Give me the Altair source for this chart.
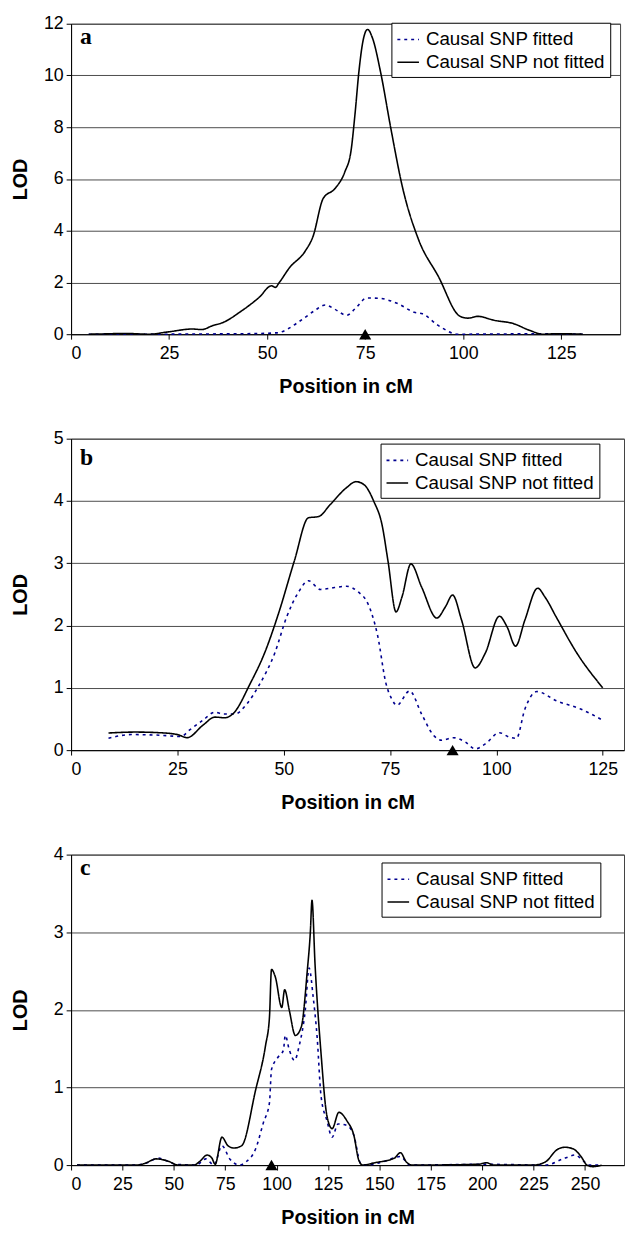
import altair as alt
import pandas as pd

SERIES = ["Causal SNP fitted", "Causal SNP not fitted"]
BLUE = "#00008f"
FONT = "Liberation Sans"

# ---- Panel a ----
A_pos_nf = [4.5, 8, 13.7, 19.7, 24.8, 30.9, 33.4, 35.9, 39, 43, 48, 51.1, 52.1, 53.1, 55.7, 59.7,
            61.7, 64.3, 67.3, 69.8, 71.4, 72.4, 73.4, 74.4, 75.6, 76.9, 78.9, 81.5, 84.5, 88.6, 93.6,
            99.2, 101.2, 103.7, 107.8, 112.8, 116.9, 120.4, 124, 130.5]
A_lod_nf = [0.0, 0.01, 0.03, 0.0, 0.09, 0.2, 0.18, 0.32, 0.47, 0.85, 1.43, 1.87, 1.81, 2.0, 2.57, 3.21,
            3.78, 5.25, 5.63, 6.27, 7.1, 8.5, 10.15, 11.3, 11.78, 11.43, 10.15, 7.99, 5.69, 3.66, 2.25,
            0.69, 0.62, 0.69, 0.54, 0.41, 0.15, 0.0, 0.02, 0.0]
A_pos_f = [4.5, 20, 35, 45, 52, 53.5, 55.2, 59.2, 62.2, 64.8, 67.3, 70.3, 72.4, 75.4, 78.4, 83.5,
           87.5, 89.6, 93.6, 98.7, 110, 120, 130.5]
A_lod_f = [0, 0, 0.01, 0.02, 0.05, 0.08, 0.2, 0.6, 0.92, 1.13, 0.96, 0.73, 0.98, 1.4, 1.39, 1.17,
           0.85, 0.79, 0.34, 0.0, 0.01, 0.02, 0.0]
A_causal = [75]

# ---- Panel b ----
B_pos_nf = [8.8, 15.1, 20.7, 25, 27.3, 31, 33.8, 36.2, 38, 42.2, 45.5, 48.8, 52.5, 55.8, 58.2, 60.9,
            64.7, 67, 68.9, 71.2, 73.1, 74.5, 76.4, 77.8, 79.9, 82.4, 86, 88, 89.7, 91.8, 95, 97.4,
            100.7, 102.5, 104.5, 106.7, 109.7, 111.4, 114.2, 118.9, 125]
B_lod_nf = [0.275, 0.29, 0.28, 0.25, 0.2, 0.4, 0.53, 0.52, 0.58, 1.08, 1.56, 2.2, 3.04, 3.73, 3.75, 3.94,
            4.21, 4.31, 4.26, 3.99, 3.62, 3.04, 2.22, 2.46, 2.99, 2.62, 2.12, 2.3, 2.49, 2.09, 1.32, 1.56,
            2.15, 1.98, 1.67, 2.09, 2.6, 2.46, 2.12, 1.56, 1.0]
B_pos_f = [8.8, 14.2, 20.7, 25.9, 27.8, 31, 33.8, 35.7, 38.5, 41.3, 44.1, 47.9, 50.7, 53.5, 55.8, 58.6,
           61.9, 64.7, 67.5, 69.8, 72.1, 74, 75.4, 76.6, 79.6, 82.4, 85.2, 87.1, 89.9, 92.7, 95, 97.4,
           100.7, 103, 104.7, 106.7, 109.5, 114.2, 119.8, 125]
B_lod_f = [0.19, 0.25, 0.24, 0.22, 0.32, 0.48, 0.61, 0.58, 0.58, 0.74, 1.03, 1.56, 2.14, 2.54, 2.72, 2.58,
           2.61, 2.63, 2.54, 2.35, 1.83, 1.08, 0.82, 0.72, 0.95, 0.58, 0.24, 0.16, 0.2, 0.13, 0.02, 0.1,
           0.28, 0.21, 0.19, 0.66, 0.94, 0.79, 0.66, 0.48]
B_causal = [89.7]

# ---- Panel c ----
C_pos_nf = [2.9, 31.9, 35.7, 41.5, 47.3, 52.1, 59.8, 62.7, 66.2, 68.5, 70.1, 73.4, 76.3, 79.2, 83, 89.8,
            94.6, 96.5, 97.5, 99.4, 102.5, 103.9, 106.2, 109.1, 112, 114.9, 116.4, 117.2, 118.7, 121.6,
            124.5, 127, 130.3, 134.2, 137.6, 140, 141.9, 147.7, 157.3, 160.2, 163.1, 166, 197.9, 202.1,
            205.6, 224.9, 230.7, 236.5, 240.3, 244.2, 248.1, 251, 253.9, 258.1]
C_lod_nf = [0.0, 0.0, 0.02, 0.08, 0.05, 0.0, 0.0, 0.05, 0.13, 0.09, 0.01, 0.36, 0.25, 0.22, 0.25, 0.97,
            1.54, 1.9, 2.52, 2.42, 2.03, 2.26, 1.99, 1.67, 1.78, 2.5, 3.0, 3.41, 2.58, 1.44,
            0.63, 0.47, 0.68, 0.57, 0.38, 0.06, 0.0, 0.03, 0.09, 0.16, 0.04, 0.0, 0.01, 0.03,
            0.0, 0.0, 0.04, 0.2, 0.23, 0.21, 0.11, 0.0, -0.02, 0.0]
C_pos_f = [2.9, 31.9, 37, 42.5, 47, 51, 60.8, 65.6, 69.5, 73.4, 77.2, 82, 85, 89.8, 93.6, 96.5, 97.5,
           100.4, 103.3, 104.2, 106.2, 108.7, 111, 113.9, 115.8, 117.8, 119.7, 121.6, 124.5, 127, 129.9,
           134.2, 137.6, 140.9, 143.8, 151.5, 160.2, 165, 202, 230.7, 240.3, 245.2, 249, 251.9, 258.1]
C_lod_f = [0, 0, 0.03, 0.09, 0.05, 0.01, 0, 0.08, 0, 0.25, 0.08, 0, 0.04, 0.21, 0.55, 0.8, 1.23,
           1.38, 1.48, 1.67, 1.48, 1.35, 1.54, 1.99, 2.54, 2.16, 1.65, 0.89, 0.57, 0.36, 0.53,
           0.51, 0.38, 0.02, 0, 0.04, 0.11, 0, 0.01, 0, 0.09, 0.13, 0.06, 0, 0]
C_causal = [97.5]


def make_df(pf, lf, pn, ln):
    rows = [{"pos": p, "lod": v, "series": SERIES[0]} for p, v in zip(pf, lf)]
    rows += [{"pos": p, "lod": v, "series": SERIES[1]} for p, v in zip(pn, ln)]
    return pd.DataFrame(rows)


def panel(df, causal, letter, letter_y, xmax, xticks, ymax, yticks, width, height, legx, legy):
    leg = alt.Legend(
        orient="none", legendX=legx, legendY=legy, title=None, direction="vertical",
        fillColor="white", strokeColor="black", padding=5, cornerRadius=0,
        labelFont=FONT, labelFontSize=19, labelColor="black", labelLimit=400,
        symbolType="stroke", symbolSize=480, symbolStrokeWidth=1.6, labelOffset=6, rowPadding=1,
    )
    xs = alt.Scale(domain=[0, xmax], nice=False, zero=True)
    ys = alt.Scale(domain=[0, ymax], nice=False)
    lines = alt.Chart(df).mark_line(interpolate="monotone", strokeWidth=1.6).encode(
        x=alt.X("pos:Q", scale=xs, axis=alt.Axis(values=xticks, title="Position in cM", grid=False, format="d")),
        y=alt.Y("lod:Q", scale=ys, axis=alt.Axis(values=yticks, title="LOD", grid=True, format="d")),
        color=alt.Color("series:N", scale=alt.Scale(domain=SERIES, range=[BLUE, "black"]), legend=leg),
        strokeDash=alt.StrokeDash("series:N", scale=alt.Scale(domain=SERIES, range=[[3, 4], [1, 0]]), legend=leg),
    )
    tri = alt.Chart(pd.DataFrame({"pos": causal, "lod": [0] * len(causal)})).mark_point(
        shape="triangle-up", filled=True, color="black", opacity=1, size=150
    ).encode(x=alt.X("pos:Q", scale=xs), y=alt.Y("lod:Q", scale=ys))
    lab = alt.Chart(pd.DataFrame({"t": [letter]})).mark_text(
        font="Liberation Serif", fontWeight="bold", fontSize=24, align="left", baseline="alphabetic", color="black"
    ).encode(text="t:N", x=alt.value(9), y=alt.value(letter_y))
    return alt.layer(lines, tri, lab).properties(width=width, height=height)


pa = panel(make_df(A_pos_f, A_lod_f, A_pos_nf, A_lod_nf), A_causal, "a", 21, 140,
           [0, 25, 50, 75, 100, 125], 12, [0, 2, 4, 6, 8, 10, 12], 557, 315, 325, -1)
pb = panel(make_df(B_pos_f, B_lod_f, B_pos_nf, B_lod_nf), B_causal, "b", 27, 130,
           [0, 25, 50, 75, 100, 125], 5, [0, 1, 2, 3, 4, 5], 561, 316, 314, 5)
pc = panel(make_df(C_pos_f, C_lod_f, C_pos_nf, C_lod_nf), C_causal, "c", 21, 269,
           [0, 25, 50, 75, 100, 125, 150, 175, 200, 225, 250], 4, [0, 1, 2, 3, 4], 561, 315, 315, 8)

chart = alt.vconcat(pa, pb, pc, spacing=32).resolve_scale(
    color="independent", strokeDash="independent"
).properties(
    padding={"left": 2, "top": -3, "right": 0, "bottom": 0}
).configure_view(
    stroke="#404040", strokeWidth=1
).configure_axis(
    labelFont=FONT, labelFontSize=18, labelColor="black",
    titleFont=FONT, titleFontSize=20, titleFontWeight="bold", titleColor="black",
    domainColor="black", tickColor="black", tickSize=5, gridColor="#4a4a4a", gridWidth=1,
).configure_axisY(
    labelPadding=3, minExtent=30, maxExtent=30, titlePadding=11
).configure_axisX(
    labelPadding=6, titlePadding=14
)

chart.save("out.html", embed_options={"renderer": "svg", "actions": False})
